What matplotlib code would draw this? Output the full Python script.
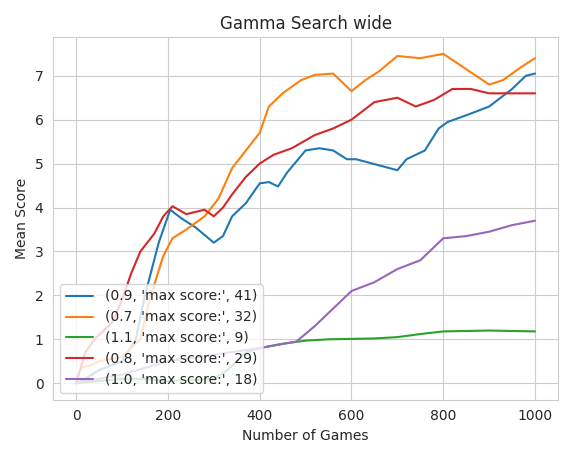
import matplotlib
matplotlib.use('Agg')
import matplotlib.pyplot as plt
import seaborn as sns

sns.set_style('whitegrid')

# values (game, mean score)
g09_x = [0, 20, 50, 100, 130, 150, 180, 205, 230, 260, 300, 320, 340, 370, 400, 420, 440, 460, 500, 530, 560, 590, 610, 700, 720, 760, 790, 810, 850, 900, 950, 980, 1000]
g09_y = [0, 0.1, 0.3, 0.5, 1.0, 2.0, 3.2, 3.95, 3.75, 3.55, 3.2, 3.35, 3.8, 4.1, 4.55, 4.58, 4.48, 4.8, 5.3, 5.35, 5.3, 5.1, 5.1, 4.85, 5.1, 5.3, 5.8, 5.95, 6.1, 6.3, 6.7, 7.0, 7.05]
g07_x = [0, 10, 30, 50, 100, 140, 160, 190, 210, 240, 280, 310, 340, 370, 400, 420, 450, 490, 520, 560, 600, 630, 660, 700, 750, 800, 900, 930, 970, 1000]
g07_y = [0, 0.35, 0.4, 0.5, 0.6, 1.0, 1.9, 2.9, 3.3, 3.5, 3.8, 4.2, 4.9, 5.3, 5.7, 6.3, 6.6, 6.9, 7.02, 7.05, 6.65, 6.9, 7.1, 7.45, 7.4, 7.5, 6.8, 6.9, 7.2, 7.4]
g11_x = [0, 50, 100, 150, 200, 300, 330, 370, 400, 450, 500, 550, 650, 700, 750, 800, 900, 1000]
g11_y = [0, 0.05, 0.1, 0.1, 0.05, 0.1, 0.3, 0.7, 0.8, 0.9, 0.97, 1.0, 1.02, 1.05, 1.12, 1.18, 1.2, 1.18]
g08_x = [0, 20, 40, 80, 100, 120, 140, 170, 190, 210, 240, 280, 300, 320, 340, 370, 400, 430, 470, 520, 560, 600, 650, 700, 740, 780, 820, 860, 900, 960, 1000]
g08_y = [0, 0.7, 1.0, 1.4, 1.9, 2.5, 3.0, 3.4, 3.8, 4.03, 3.85, 3.95, 3.8, 4.0, 4.3, 4.7, 5.0, 5.2, 5.35, 5.65, 5.8, 6.0, 6.4, 6.5, 6.3, 6.45, 6.7, 6.7, 6.6, 6.6, 6.6]
g10_x = [0, 20, 50, 100, 200, 300, 400, 480, 520, 560, 600, 650, 700, 750, 800, 850, 900, 950, 1000]
g10_y = [0, 0.05, 0.1, 0.2, 0.5, 0.65, 0.8, 0.95, 1.3, 1.7, 2.1, 2.3, 2.6, 2.8, 3.3, 3.35, 3.45, 3.6, 3.7]

series = [
    (g09_x, g09_y, (0.9, 'max score:', 41)),
    (g07_x, g07_y, (0.7, 'max score:', 32)),
    (g11_x, g11_y, (1.1, 'max score:', 9)),
    (g08_x, g08_y, (0.8, 'max score:', 29)),
    (g10_x, g10_y, (1.0, 'max score:', 18)),
]

plt.figure(figsize=(5.73, 4.58), dpi=100)
for x, y, lab in series:
    plt.plot(x, y, label=str(lab), linewidth=1.5)

plt.title('Gamma Search wide')
plt.xlabel('Number of Games')
plt.ylabel('Mean Score')
plt.legend(loc='lower left')
plt.tight_layout()
plt.savefig('out.png')
